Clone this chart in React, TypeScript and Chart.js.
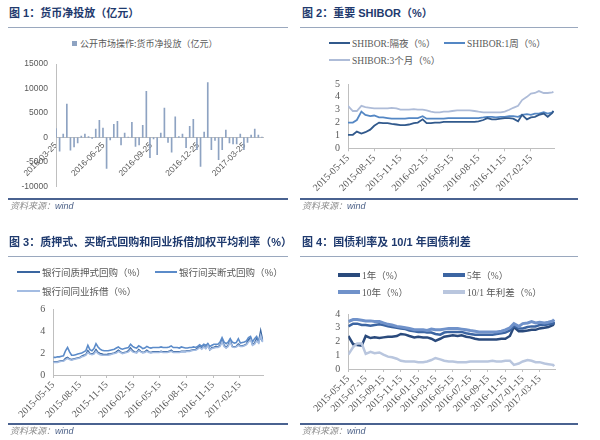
import React, { useEffect, useRef } from "react";
import { Chart, registerables } from "chart.js";

Chart.register(...registerables);

const day = (s: string) => Date.parse(s + "T00:00:00Z") / 86400000;

// ---------------- Figure 1: 货币净投放（亿元） weekly
const NET_START = "2016-03-25";
const NET_END = "2017-04-30";
const NET_TICKS = ["2016-03-25", "2016-06-25", "2016-09-25", "2016-12-25", "2017-03-25"];
const NET_INJECTION = [
  1800, -2800, 700, 6800, -2600, -1900, -1100, 300, 700, 200,
  -200, 1700, 3500, 1900, -6300, -500, 2700, 3300, -1500, 900,
  100, 3100, -1800, -1500, 2500, 9400, -4100, -300, -3500, 900,
  6000, -1000, -3000, 4200, 200, 700, -2100, 2300, 3700, -2500,
  -5900, 1100, 11200, -2500, -600, -4500, -2500, 1500, -1100, -1300,
  -1300, 700, -2500, -1000, 500, 1700, 500, 100,
];

// ---------------- Figure 2 & 4: semi-monthly observation dates
const SEMI_DATES = [
  "2015-05-15",
  "2015-06-01", "2015-06-15", "2015-07-01", "2015-07-15", "2015-08-01", "2015-08-15", "2015-09-01",
  "2015-09-15", "2015-10-01", "2015-10-15", "2015-11-01", "2015-11-15", "2015-12-01", "2015-12-15",
  "2016-01-01", "2016-01-15", "2016-02-01", "2016-02-15", "2016-03-01", "2016-03-15", "2016-04-01",
  "2016-04-15", "2016-05-01", "2016-05-15", "2016-06-01", "2016-06-15", "2016-07-01", "2016-07-15",
  "2016-08-01", "2016-08-15", "2016-09-01", "2016-09-15", "2016-10-01", "2016-10-15", "2016-11-01",
  "2016-11-15", "2016-12-01", "2016-12-15",
  "2017-01-01", "2017-01-15", "2017-02-01", "2017-02-15", "2017-03-01", "2017-03-15", "2017-04-01",
  "2017-04-15", "2017-05-01", "2017-05-05",
];

// Figure 2: SHIBOR
const SHIBOR_START = "2015-05-15";
const SHIBOR_END = "2017-05-07";
const QUARTER_TICKS = [
  "2015-05-15", "2015-08-15", "2015-11-15", "2016-02-15",
  "2016-05-15", "2016-08-15", "2016-11-15", "2017-02-15",
];
const SHIBOR_ON = [
  1.05, 1.05, 1.3, 1.15, 1.25, 1.45, 1.75, 2.0, 1.95, 1.95,
  1.9, 1.85, 1.8, 1.8, 1.85, 1.95, 2.0, 2.25, 1.95, 1.95,
  2.0, 2.0, 2.05, 2.05, 2.05, 2.05, 2.05, 2.05, 2.05, 2.05,
  2.1, 2.2, 2.35, 2.25, 2.25, 2.3, 2.35, 2.35, 2.3, 2.1,
  2.6, 2.25, 2.4, 2.45, 2.6, 2.7, 2.45, 2.75, 2.9,
];
const SHIBOR_1W = [
  2.0, 2.0, 2.2, 2.85, 2.6, 2.5, 2.55, 2.4, 2.4, 2.35,
  2.3, 2.3, 2.3, 2.3, 2.35, 2.35, 2.35, 2.5, 2.3, 2.3,
  2.3, 2.3, 2.3, 2.35, 2.35, 2.35, 2.35, 2.35, 2.35, 2.35,
  2.35, 2.4, 2.45, 2.45, 2.4, 2.45, 2.45, 2.5, 2.5, 2.45,
  2.6, 2.65, 2.6, 2.7, 2.7, 2.8, 2.7, 2.8, 2.9,
];
const SHIBOR_3M = [
  3.3, 2.9, 2.9, 3.3, 3.2, 3.15, 3.1, 3.1, 3.1, 3.1,
  3.15, 3.1, 3.0, 3.0, 3.0, 3.05, 3.0, 3.0, 2.95, 2.85,
  2.8, 2.8, 2.85, 2.85, 2.9, 2.95, 2.95, 2.95, 2.95, 2.9,
  2.85, 2.8, 2.8, 2.8, 2.8, 2.8, 2.85, 3.0, 3.15, 3.3,
  3.75, 4.0, 4.25, 4.3, 4.45, 4.3, 4.3, 4.35, 4.4,
];

// ---------------- Figure 3: weekly repo / interbank rates
const REPO_START = "2015-05-15";
const REPO_END = "2017-05-07";
const REPO_PLEDGE = [
  1.2, 1.2, 1.2, 1.25, 1.3, 1.3, 1.5, 1.6, 1.45, 1.4,
  1.45, 1.5, 1.55, 1.6, 1.7, 1.8, 1.85, 2.2, 1.95, 1.9,
  2.0, 2.3, 2.05, 1.95, 1.9, 1.85, 1.85, 1.9, 1.9, 1.95,
  2.0, 2.1, 2.25, 2.1, 2.0, 2.05, 2.1, 2.2, 2.45, 2.2,
  2.1, 2.05, 2.3, 2.15, 2.05, 2.1, 2.25, 2.1, 2.05, 2.1,
  2.1, 2.1, 2.1, 2.15, 2.1, 2.1, 2.1, 2.15, 2.25, 2.1,
  2.1, 2.1, 2.1, 2.15, 2.15, 2.15, 2.2, 2.2, 2.25, 2.3,
  2.3, 2.45, 2.6, 2.4, 2.65, 2.45, 2.8, 2.3, 2.5, 2.5,
  2.6, 2.55, 2.7, 3.2, 2.7, 2.5, 2.7, 3.2, 2.6, 2.55,
  2.6, 2.8, 2.65, 2.65, 2.7, 2.8, 3.2, 3.35, 2.75, 2.9,
  3.3, 3.0, 4.0, 3.1,
];
const REPO_OUTRIGHT = [
  1.6, 1.6, 1.65, 1.65, 1.7, 1.75, 2.2, 2.5, 2.1, 1.8,
  1.8, 1.85, 1.9, 1.95, 2.0, 2.1, 2.2, 2.7, 2.3, 2.2,
  2.4, 2.85, 2.55, 2.35, 2.25, 2.2, 2.2, 2.2, 2.25, 2.3,
  2.35, 2.45, 2.55, 2.4, 2.35, 2.4, 2.45, 2.5, 2.8, 2.6,
  2.5, 2.45, 2.65, 2.55, 2.4, 2.45, 2.6, 2.5, 2.45, 2.5,
  2.5, 2.5, 2.5, 2.55, 2.5, 2.5, 2.5, 2.55, 2.65, 2.5,
  2.5, 2.5, 2.45, 2.55, 2.5, 2.45, 2.45, 2.5, 2.5, 2.55,
  2.5, 2.6, 2.75, 2.6, 2.8, 2.7, 2.85, 2.6, 2.7, 2.8,
  2.8, 2.8, 3.0, 3.4, 3.0, 2.85, 3.0, 3.3, 3.0, 2.9,
  2.95, 3.3, 2.9, 2.95, 3.0, 3.1, 3.4, 3.5, 3.0, 3.3,
  3.5, 3.1, 3.4, 3.0,
];
const INTERBANK = [
  1.15, 1.15, 1.15, 1.2, 1.25, 1.25, 1.4, 1.5, 1.4, 1.35,
  1.4, 1.45, 1.5, 1.55, 1.65, 1.7, 1.8, 2.05, 1.9, 1.85,
  1.9, 2.15, 1.95, 1.85, 1.8, 1.8, 1.8, 1.8, 1.85, 1.9,
  1.95, 2.0, 2.15, 2.05, 1.95, 2.0, 2.05, 2.1, 2.3, 2.1,
  2.05, 2.0, 2.2, 2.1, 2.0, 2.05, 2.15, 2.05, 2.0, 2.05,
  2.05, 2.05, 2.05, 2.1, 2.05, 2.05, 2.05, 2.1, 2.15, 2.05,
  2.05, 2.05, 2.05, 2.1, 2.1, 2.1, 2.15, 2.15, 2.2, 2.25,
  2.25, 2.35, 2.5, 2.35, 2.55, 2.4, 2.65, 2.3, 2.4, 2.45,
  2.5, 2.5, 2.6, 3.0, 2.6, 2.45, 2.6, 3.0, 2.55, 2.5,
  2.55, 2.7, 2.6, 2.6, 2.65, 2.75, 3.0, 3.2, 2.7, 2.8,
  3.1, 2.9, 3.6, 3.0,
];

// ---------------- Figure 4: treasury yields
const BOND_START = "2015-05-15";
const BOND_END = "2017-05-08";
const BOND_TICKS = [
  "2015-05-15", "2015-07-15", "2015-09-15", "2015-11-15", "2016-01-15", "2016-03-15",
  "2016-05-15", "2016-07-15", "2016-09-15", "2016-11-15", "2017-01-15", "2017-03-15",
];
const YIELD_1Y = [
  2.4, 1.8, 1.75, 1.7, 2.4, 2.25, 2.3, 2.25, 2.3, 2.35,
  2.35, 2.4, 2.55, 2.5, 2.4, 2.3, 2.35, 2.3, 2.3, 2.2,
  2.05, 2.2, 2.35, 2.4, 2.45, 2.4, 2.45, 2.35, 2.3, 2.2,
  2.15, 2.15, 2.15, 2.15, 2.15, 2.2, 2.2, 2.4, 3.05, 2.75,
  2.75, 2.8, 2.85, 2.85, 2.95, 3.0, 3.05, 3.2, 3.35,
];
const YIELD_5Y = [
  3.1, 3.3, 3.3, 3.2, 3.2, 3.15, 3.2, 3.25, 3.2, 3.1,
  3.05, 3.0, 2.95, 2.9, 2.8, 2.75, 2.7, 2.7, 2.65, 2.65,
  2.55, 2.5, 2.65, 2.7, 2.7, 2.7, 2.7, 2.6, 2.55, 2.5,
  2.5, 2.5, 2.5, 2.5, 2.55, 2.6, 2.65, 2.8, 3.15, 2.95,
  2.95, 3.05, 3.1, 3.1, 3.2, 3.2, 3.25, 3.3, 3.45,
];
const YIELD_10Y = [
  3.45, 3.6, 3.6, 3.55, 3.5, 3.5, 3.45, 3.45, 3.35, 3.25,
  3.2, 3.1, 3.05, 3.0, 2.95, 2.85, 2.85, 2.85, 2.8, 2.9,
  2.85, 2.85, 2.9, 2.95, 2.95, 2.95, 2.9, 2.85, 2.8, 2.75,
  2.7, 2.7, 2.7, 2.7, 2.7, 2.75, 2.85, 3.0, 3.3, 3.1,
  3.3, 3.35, 3.45, 3.35, 3.4, 3.35, 3.4, 3.5, 3.6,
];
const SPREAD_10_1 = [
  1.05, 1.6, 1.85, 1.85, 1.1, 1.25, 1.15, 1.2, 1.05, 0.9,
  0.85, 0.75, 0.6, 0.55, 0.55, 0.55, 0.5, 0.5, 0.55, 0.65,
  0.8, 0.7, 0.6, 0.55, 0.55, 0.5, 0.5, 0.5, 0.55, 0.55,
  0.55, 0.55, 0.55, 0.6, 0.55, 0.55, 0.6, 0.6, 0.3, 0.4,
  0.55, 0.65, 0.6, 0.5, 0.5, 0.4, 0.35, 0.3, 0.2,
];

// ---------------- styles
const TITLE_COLOR = "#1F3A6E";
const TICK_COLOR = "#595959";
const AXIS_COLOR = "#BFBFBF";
const BAR_COLOR = "#8EA3C2";
const C_ON = "#31598C", C_1W = "#5487C4", C_3M = "#AEBCD8";
const C_PLEDGE = "#3A66A0", C_OUTRIGHT = "#5B8BC9", C_INTERBANK = "#A3BCE2";
const C_1Y = "#2A4A7C", C_5Y = "#3C65A2", C_10Y = "#7092CA", C_SPREAD = "#B9C6DE";
const SERIF = "'Liberation Serif', 'Noto Sans CJK SC', serif";
const SANS = "'Liberation Sans', 'Noto Sans CJK SC', sans-serif";
const CJK = "'Noto Sans CJK SC', sans-serif";

function weeklyX(start: string, n: number) {
  return Array.from({ length: n }, (_, i) => day(start) + 7 * i);
}

function dateAxis(min: string, max: string, ticks: string[], height: number) {
  return {
    type: "linear",
    min: day(min),
    max: day(max),
    offset: false,
    afterBuildTicks: (axis: any) => {
      axis.ticks = ticks.map((t) => ({ value: day(t) }));
    },
    afterFit: (axis: any) => {
      axis.height = height;
    },
    grid: { drawOnChartArea: false, drawTicks: true, tickLength: 3, color: AXIS_COLOR },
    border: { color: AXIS_COLOR, width: 1 },
    ticks: {
      autoSkip: false,
      minRotation: 45,
      maxRotation: 45,
      padding: 1,
      color: TICK_COLOR,
      font: { family: SERIF, size: 10 },
      callback: (v: number) => ticks.find((t) => day(t) === v) ?? "",
    },
  };
}

function valueAxis(min: number, max: number, step: number, width: number) {
  return {
    min,
    max,
    grid: { display: false, drawTicks: false },
    border: { color: AXIS_COLOR, width: 1 },
    afterFit: (axis: any) => {
      axis.width = width;
    },
    ticks: {
      stepSize: step,
      autoSkip: false,
      padding: 8,
      color: TICK_COLOR,
      font: { family: SERIF, size: 10 },
      callback: (v: number) => String(v),
    },
  };
}

type Series = { label: string; values: number[]; color: string; width: number };

function lineConfig(xs: number[], series: Series[], x: any, y: any, pad: any): any {
  return {
    type: "line",
    data: {
      datasets: series.map((s) => ({
        label: s.label,
        data: s.values.map((v, i) => ({ x: xs[i], y: v })),
        borderColor: s.color,
        backgroundColor: s.color,
        borderWidth: s.width,
        pointRadius: 0,
        tension: 0,
        fill: false,
      })),
    },
    options: {
      responsive: false,
      animation: false,
      events: [],
      layout: { padding: { left: 0, bottom: 0, ...pad } },
      plugins: { legend: { display: false }, tooltip: { enabled: false } },
      scales: { x, y },
    },
  };
}

function Title({ x, y, text }: { x: number; y: number; text: string }) {
  return (
    <div
      style={{
        position: "absolute",
        left: x,
        top: y - 7,
        height: 14,
        lineHeight: "14px",
        fontSize: 11,
        fontWeight: "bold",
        color: TITLE_COLOR,
        fontFamily: SANS,
        whiteSpace: "nowrap",
      }}
    >
      {text}
    </div>
  );
}

function Rule({ x, y, w, h, color }: { x: number; y: number; w: number; h: number; color: string }) {
  return <div style={{ position: "absolute", left: x, top: y, width: w, height: h, background: color }} />;
}

function Source({ x, y }: { x: number; y: number }) {
  return (
    <div
      style={{
        position: "absolute",
        left: x,
        top: y - 6,
        lineHeight: "12px",
        fontSize: 9,
        fontStyle: "italic",
        whiteSpace: "nowrap",
        fontFamily: SANS,
      }}
    >
      <span style={{ color: "#8C8C8C", fontFamily: CJK }}>资料来源：</span>
      <span style={{ color: "#4A5F86" }}>wind</span>
    </div>
  );
}

function LegendLine({
  x, y, color, thick, len, text, font,
}: { x: number; y: number; color: string; thick: number; len: number; text: string; font: string }) {
  return (
    <div
      style={{
        position: "absolute",
        left: x,
        top: y - 7,
        height: 14,
        display: "flex",
        alignItems: "center",
        whiteSpace: "nowrap",
        fontSize: 9.5,
        color: TICK_COLOR,
        fontFamily: font,
      }}
    >
      <span style={{ display: "inline-block", width: len, height: thick, background: color, marginRight: 2 }} />
      <span>{text}</span>
    </div>
  );
}

export default function App() {
  const c1 = useRef<HTMLCanvasElement>(null);
  const c2 = useRef<HTMLCanvasElement>(null);
  const c3 = useRef<HTMLCanvasElement>(null);
  const c4 = useRef<HTMLCanvasElement>(null);

  useEffect(() => {
    const charts: Chart[] = [];

    // Figure 1 bar chart
    const x1 = weeklyX(NET_START, NET_INJECTION.length);
    if (c1.current) {
      charts.push(
        new Chart(c1.current, {
          type: "bar",
          data: {
            datasets: [
              {
                label: "公开市场操作:货币净投放（亿元）",
                data: NET_INJECTION.map((v, i) => ({ x: x1[i], y: v })),
                backgroundColor: BAR_COLOR,
                borderWidth: 0,
                barThickness: 1,
              } as any,
            ],
          },
          options: {
            responsive: false,
            animation: false,
            events: [],
            layout: { padding: { left: 0, top: 14, right: 37, bottom: 13.5 } },
            plugins: { legend: { display: false }, tooltip: { enabled: false } },
            scales: {
              x: {
                type: "linear",
                position: { y: 0 },
                min: day(NET_START),
                max: day(NET_END),
                offset: false,
                afterBuildTicks: (axis: any) => {
                  axis.ticks = NET_TICKS.map((t) => ({ value: day(t) }));
                },
                grid: { display: false, drawTicks: false },
                border: { color: AXIS_COLOR, width: 1 },
                ticks: {
                  autoSkip: false,
                  minRotation: 45,
                  maxRotation: 45,
                  padding: 3,
                  color: TICK_COLOR,
                  font: { family: SANS, size: 8.5 },
                  callback: (v: any) => NET_TICKS.find((t) => day(t) === v) ?? "",
                },
              } as any,
              y: {
                min: -10000,
                max: 15000,
                grid: { display: false, drawTicks: false },
                border: { color: AXIS_COLOR, width: 1 },
                afterFit: (axis: any) => {
                  axis.width = 56;
                },
                ticks: {
                  stepSize: 5000,
                  autoSkip: false,
                  padding: 8,
                  color: TICK_COLOR,
                  font: { family: SANS, size: 8.5 },
                  callback: (v: any) => String(v),
                },
              },
            },
          } as any,
        })
      );
    }

    // Figure 2 SHIBOR
    const xSemi = SEMI_DATES.map(day);
    if (c2.current) {
      charts.push(
        new Chart(
          c2.current,
          lineConfig(
            xSemi,
            [
              { label: "SHIBOR:隔夜（%）", values: SHIBOR_ON, color: C_ON, width: 1.8 },
              { label: "SHIBOR:1周（%）", values: SHIBOR_1W, color: C_1W, width: 1.8 },
              { label: "SHIBOR:3个月（%）", values: SHIBOR_3M, color: C_3M, width: 1.8 },
            ],
            dateAxis(SHIBOR_START, SHIBOR_END, QUARTER_TICKS, 71.7),
            valueAxis(0, 5, 1, 48),
            { top: 10, right: 46 }
          )
        )
      );
    }

    // Figure 3 repo rates
    const x3 = weeklyX(REPO_START, REPO_PLEDGE.length);
    if (c3.current) {
      charts.push(
        new Chart(
          c3.current,
          lineConfig(
            x3,
            [
              { label: "银行间同业拆借（%）", values: INTERBANK, color: C_INTERBANK, width: 1.6 },
              { label: "银行间买断式回购（%）", values: REPO_OUTRIGHT, color: C_OUTRIGHT, width: 1.6 },
              { label: "银行间质押式回购（%）", values: REPO_PLEDGE, color: C_PLEDGE, width: 1.6 },
            ],
            dateAxis(REPO_START, REPO_END, QUARTER_TICKS, 50),
            valueAxis(0, 6, 2, 53.3),
            { top: 10, right: 36.7 }
          )
        )
      );
    }

    // Figure 4 bond yields
    if (c4.current) {
      charts.push(
        new Chart(
          c4.current,
          lineConfig(
            xSemi,
            [
              { label: "10/1 年利差（%）", values: SPREAD_10_1, color: C_SPREAD, width: 2.5 },
              { label: "10年（%）", values: YIELD_10Y, color: C_10Y, width: 3 },
              { label: "5年（%）", values: YIELD_5Y, color: C_5Y, width: 2.5 },
              { label: "1年（%）", values: YIELD_1Y, color: C_1Y, width: 2.5 },
            ],
            dateAxis(BOND_START, BOND_END, BOND_TICKS, 56),
            valueAxis(0, 4, 1, 48.3),
            { top: 10.7, right: 45 }
          )
        )
      );
    }

    return () => charts.forEach((c) => c.destroy());
  }, []);

  const canvasStyle = (l: number, t: number, w: number, h: number): React.CSSProperties => ({
    position: "absolute",
    left: l,
    top: t,
    width: w,
    height: h,
  });

  return (
    <div style={{ position: "absolute", left: 0, top: 0, width: 600, height: 440, background: "#fff", overflow: "hidden" }}>
      {/* Panel 1 */}
      <Title x={9} y={13} text="图 1：货币净投放（亿元）" />
      <Rule x={8} y={27} w={280} h={1} color="#9AA8BE" />
      <div
        style={{
          position: "absolute",
          left: 72,
          top: 36,
          height: 14,
          display: "flex",
          alignItems: "center",
          fontSize: 9,
          color: TICK_COLOR,
          fontFamily: CJK,
          whiteSpace: "nowrap",
        }}
      >
        <span style={{ display: "inline-block", width: 5, height: 5, background: BAR_COLOR, marginRight: 3 }} />
        <span>公开市场操作:货币净投放（亿元）</span>
      </div>
      <canvas ref={c1} width={300} height={150} style={canvasStyle(0, 50, 300, 150)} />
      <Rule x={8} y={198} w={280} h={2} color="#4A6290" />
      <Source x={10} y={206} />

      {/* Panel 2 */}
      <Title x={302} y={13} text="图 2：重要 SHIBOR（%）" />
      <Rule x={300} y={27} w={278} h={1} color="#9AA8BE" />
      <LegendLine x={329} y={43} color={C_ON} thick={2} len={21} text="SHIBOR:隔夜（%）" font={SERIF} />
      <LegendLine x={444} y={43} color={C_1W} thick={2} len={21} text="SHIBOR:1周（%）" font={SERIF} />
      <LegendLine x={329} y={60} color={C_3M} thick={2} len={21} text="SHIBOR:3个月（%）" font={SERIF} />
      <canvas ref={c2} width={300} height={150} style={canvasStyle(300, 70, 300, 150)} />
      <Rule x={300} y={198} w={278} h={2} color="#4A6290" />
      <Source x={302} y={206} />

      {/* Panel 3 */}
      <Title x={9} y={242} text="图 3：质押式、买断式回购和同业拆借加权平均利率（%）" />
      <Rule x={8} y={256} w={280} h={1} color="#9AA8BE" />
      <LegendLine x={17} y={272} color={C_PLEDGE} thick={2} len={23} text="银行间质押式回购（%）" font={CJK} />
      <LegendLine x={155} y={272} color={C_OUTRIGHT} thick={2} len={22} text="银行间买断式回购（%）" font={CJK} />
      <LegendLine x={17} y={291} color={C_INTERBANK} thick={2} len={23} text="银行间同业拆借（%）" font={CJK} />
      <canvas ref={c3} width={300} height={130} style={canvasStyle(0, 295, 300, 130)} />
      <Rule x={8} y={423} w={280} h={2} color="#4A6290" />
      <Source x={10} y={431} />

      {/* Panel 4 */}
      <Title x={302} y={242} text="图 4：国债利率及 10/1 年国债利差" />
      <Rule x={300} y={256} w={278} h={1} color="#9AA8BE" />
      <LegendLine x={338} y={275} color={C_1Y} thick={3.5} len={22} text="1年（%）" font={SERIF} />
      <LegendLine x={443} y={275} color={C_5Y} thick={3.5} len={22} text="5年（%）" font={SERIF} />
      <LegendLine x={338} y={292} color={C_10Y} thick={3.5} len={22} text="10年（%）" font={SERIF} />
      <LegendLine x={443} y={292} color={C_SPREAD} thick={3.5} len={22} text="10/1 年利差（%）" font={SERIF} />
      <canvas ref={c4} width={300} height={125} style={canvasStyle(300, 300, 300, 125)} />
      <Rule x={300} y={423} w={278} h={2} color="#4A6290" />
      <Source x={302} y={431} />
    </div>
  );
}
